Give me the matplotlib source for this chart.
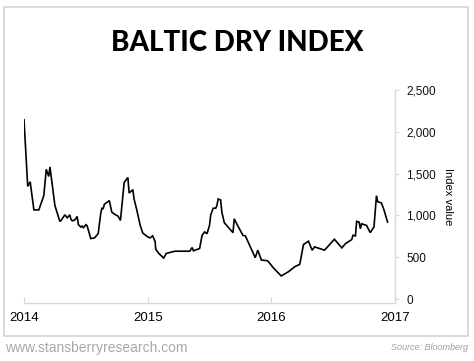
import matplotlib
matplotlib.use("Agg")
import matplotlib.pyplot as plt
from matplotlib.patches import Rectangle

# Baltic Dry Index (decimal year, index value)
years = [2014.00, 2014.03, 2014.05, 2014.08, 2014.12, 2014.16, 2014.18, 2014.20, 2014.21, 2014.25,
         2014.29, 2014.30, 2014.33, 2014.35, 2014.37, 2014.38, 2014.39, 2014.41, 2014.43, 2014.44,
         2014.46, 2014.47, 2014.48, 2014.50, 2014.51, 2014.54, 2014.57, 2014.60, 2014.62, 2014.63,
         2014.64, 2014.65, 2014.69, 2014.71, 2014.74, 2014.76, 2014.78, 2014.81, 2014.84, 2014.85,
         2014.87, 2014.88, 2014.89, 2014.91, 2014.94, 2014.96, 2015.00, 2015.02, 2015.04, 2015.06,
         2015.065, 2015.09, 2015.13, 2015.15, 2015.22, 2015.34, 2015.36, 2015.37, 2015.42, 2015.44,
         2015.46, 2015.48, 2015.50, 2015.51, 2015.53, 2015.55, 2015.56, 2015.57, 2015.59, 2015.60,
         2015.62, 2015.65, 2015.69, 2015.70, 2015.72, 2015.77, 2015.79, 2015.87, 2015.89, 2015.92,
         2015.97, 2016.02, 2016.08, 2016.14, 2016.19, 2016.23, 2016.26, 2016.30, 2016.33, 2016.35,
         2016.39, 2016.43, 2016.51, 2016.57, 2016.60, 2016.65, 2016.66, 2016.68, 2016.69, 2016.71,
         2016.72, 2016.73, 2016.77, 2016.80, 2016.82, 2016.83, 2016.85, 2016.86, 2016.89, 2016.91,
         2016.94]
values = [2145, 1347, 1402, 1066, 1066, 1236, 1552, 1466, 1580, 1118,
          928, 940, 1007, 972, 1007, 952, 936, 944, 987, 889,
          861, 873, 850, 889, 877, 723, 731, 782, 1019, 1090,
          1078, 1134, 1177, 1039, 1007, 992, 940, 1394, 1454, 1268,
          1295, 1307, 1197, 1078, 880, 790, 743, 731, 755, 691,
          596, 545, 490, 545, 572, 572, 616, 577, 604, 762,
          802, 782, 880, 1007, 1086, 1086, 1117, 1197, 1185, 1039,
          912, 861, 794, 960, 900, 762, 755, 494, 584, 466,
          458, 367, 276, 328, 387, 415, 652, 691, 584, 624,
          604, 584, 715, 612, 663, 711, 762, 755, 928, 920,
          841, 900, 880, 794, 841, 861, 1236, 1165, 1149, 1070,
          920]

x_ticks = [2014, 2015, 2016, 2017]
x_labels = ["2014", "2015", "2016", "2017"]
y_ticks = [0, 500, 1000, 1500, 2000, 2500]
y_labels = ["0", "500", "1,000", "1,500", "2,000", "2,500"]

plt.rcParams['font.family'] = ['Liberation Sans', 'DejaVu Sans']

fig = plt.figure(figsize=(4.74, 3.61), dpi=100)
fig.patch.set_facecolor('white')

# light grey frame round the chart
fig.patches.append(Rectangle((4 / 474, 1 - 336 / 361), 464 / 474, 329 / 361,
                             transform=fig.transFigure, fill=False,
                             edgecolor='#d4d4d4', lw=1.2))

fig.text(0.5, 0.882, "BALTIC DRY INDEX", ha='center', va='center',
         fontsize=20, fontweight='black', family=['Lato', 'DejaVu Sans'])

ax = fig.add_axes([24 / 474, 1 - 302.7 / 361, 371 / 474, 212.7 / 361])
ax.plot(years, values, color='black', lw=1.2, solid_joinstyle='miter')

ax.set_xlim(2014, 2017)
ax.set_ylim(-44, 2500)
for side in ['top', 'left']:
    ax.spines[side].set_visible(False)
for side in ['bottom', 'right']:
    ax.spines[side].set_color('#d9d9d9')
    ax.spines[side].set_linewidth(1.0)

ax.set_xticks(x_ticks)
ax.set_xticklabels(x_labels)
ax.tick_params(axis='x', direction='in', length=4, color='#d9d9d9', pad=7,
               labelsize=9.5, labelcolor='black')
ax.yaxis.tick_right()
ax.set_yticks(y_ticks)
ax.set_yticklabels(y_labels)
ax.tick_params(axis='y', direction='out', length=3, color='#d9d9d9', pad=5,
               labelsize=8.5, labelcolor='#111111')
ax.yaxis.set_label_position('right')
ax.set_ylabel("Index value", rotation=-90, fontsize=8, labelpad=12)

fig.text(5 / 474, 1 - 348 / 361, "www.stansberryresearch.com", ha='left', va='center',
         fontsize=10, color='#a8a8a8')
fig.text(468 / 474, 1 - 347 / 361, "Source: Bloomberg", ha='right', va='center',
         fontsize=6.5, color='#a0a0a0', style='italic')

fig.savefig("out.png", dpi=100)
